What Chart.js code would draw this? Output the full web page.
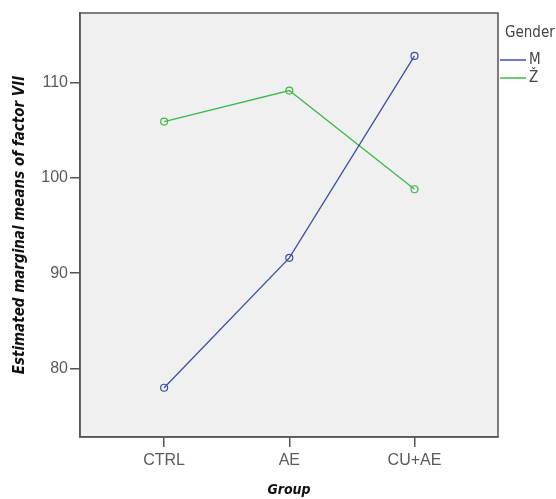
<!DOCTYPE html>
<html>
<head>
<meta charset="utf-8">
<script src="https://cdn.jsdelivr.net/npm/chart.js@4.4.1/dist/chart.umd.min.js"></script>
<style>
  html, body { margin: 0; padding: 0; background: #ffffff; }
  #wrap { width: 556px; height: 499px; position: relative; }
</style>
</head>
<body>
<div id="wrap"><canvas id="c" width="556" height="499"></canvas></div>
<script>
const categories = ["CTRL", "AE", "CU+AE"];
const seriesNames = ["M", "Ž"];
const valuesM = [77.97, 91.6, 112.8];
const valuesZ = [105.9, 109.16, 98.8];
const yTicks = [80, 90, 100, 110];
const legendTitle = "Gender";
const xTitle = "Group";
const yTitle = "Estimated marginal means of factor VII";

const colM = "#3f4fa6";
const colZ = "#3cb84c";
const bg = "#f0f0f0";

function toPts(vals) { return vals.map((v, i) => ({ x: i, y: v })); }

const plotDecor = {
  id: "plotDecor",
  beforeDraw(chart) {
    const { ctx, chartArea: a } = chart;
    ctx.save();
    ctx.fillStyle = bg;
    ctx.fillRect(a.left, a.top, a.right - a.left, a.bottom - a.top);
    ctx.restore();
  },
  afterDraw(chart) {
    const { ctx, chartArea: a } = chart;
    ctx.save();
    ctx.strokeStyle = "#555555";
    ctx.lineWidth = 1.5;
    ctx.strokeRect(a.left, a.top, a.right - a.left, a.bottom - a.top);
    // legend
    const lx = a.right + 6;
    ctx.fillStyle = "#444444";
    ctx.font = "15px 'DejaVu Sans Condensed', sans-serif";
    ctx.textBaseline = "middle";
    ctx.textAlign = "left";
    ctx.fillText(legendTitle, lx + 1, 33);
    chart.data.datasets.forEach((ds, i) => {
      const y = 60 + i * 18;
      ctx.strokeStyle = ds.borderColor;
      ctx.lineWidth = 1.5;
      ctx.beginPath();
      ctx.moveTo(a.right + 2, y);
      ctx.lineTo(a.right + 28, y);
      ctx.stroke();
      ctx.fillStyle = "#444444";
      ctx.fillText(ds.label, a.right + 31, y);
    });
    ctx.restore();
  }
};

new Chart(document.getElementById("c"), {
  type: "line",
  data: {
    datasets: [
      { label: seriesNames[0], data: toPts(valuesM), borderColor: colM, backgroundColor: bg,
        borderWidth: 1.3, pointRadius: 3.5, pointBorderWidth: 1.2, pointBackgroundColor: "rgba(0,0,0,0)", pointBorderColor: colM },
      { label: seriesNames[1], data: toPts(valuesZ), borderColor: colZ, backgroundColor: bg,
        borderWidth: 1.3, pointRadius: 3.5, pointBorderWidth: 1.2, pointBackgroundColor: "rgba(0,0,0,0)", pointBorderColor: colZ }
    ]
  },
  options: {
    responsive: false,
    animation: false,
    layout: { padding: { top: 13, right: 58, left: 0, bottom: 0 } },
    plugins: { legend: { display: false }, tooltip: { enabled: false } },
    scales: {
      x: {
        type: "linear",
        min: -0.672,
        max: 2.667,
        afterBuildTicks: (s) => { s.ticks = categories.map((c, i) => ({ value: i })); },
        afterFit: (s) => { s.height = 62; },
        ticks: {
          callback: (v) => categories[v],
          color: "#5a5a5a",
          font: { family: "'Liberation Sans', Arial, sans-serif", size: 16 },
          padding: 4,
          maxRotation: 0,
          autoSkip: false
        },
        grid: { drawOnChartArea: false, drawTicks: true, tickLength: 10, color: "#555555", lineWidth: 1.5 },
        border: { display: true, color: "#555555", width: 1.5 },
        title: {
          display: true, text: xTitle, color: "#111111",
          font: { family: "'DejaVu Sans Condensed', 'DejaVu Sans', sans-serif", size: 14, weight: "bold", style: "italic" },
          padding: { top: 0, bottom: 0 }
        }
      },
      y: {
        type: "linear",
        min: 72.8,
        max: 117.3,
        afterBuildTicks: (s) => { s.ticks = yTicks.map(v => ({ value: v })); },
        afterFit: (s) => { s.width = 80; },
        ticks: {
          color: "#5a5a5a",
          font: { family: "'Liberation Sans', Arial, sans-serif", size: 16 },
          padding: 2
        },
        grid: { drawOnChartArea: false, drawTicks: true, tickLength: 10, color: "#555555", lineWidth: 1.5 },
        border: { display: true, color: "#555555", width: 1.5 },
        title: {
          display: true, text: yTitle, color: "#111111",
          font: { family: "'DejaVu Sans Condensed', 'DejaVu Sans', sans-serif", size: 15, weight: "bold", style: "italic" },
          padding: { top: 11, bottom: 0 }
        }
      }
    }
  },
  plugins: [plotDecor]
});
</script>
</body>
</html>
